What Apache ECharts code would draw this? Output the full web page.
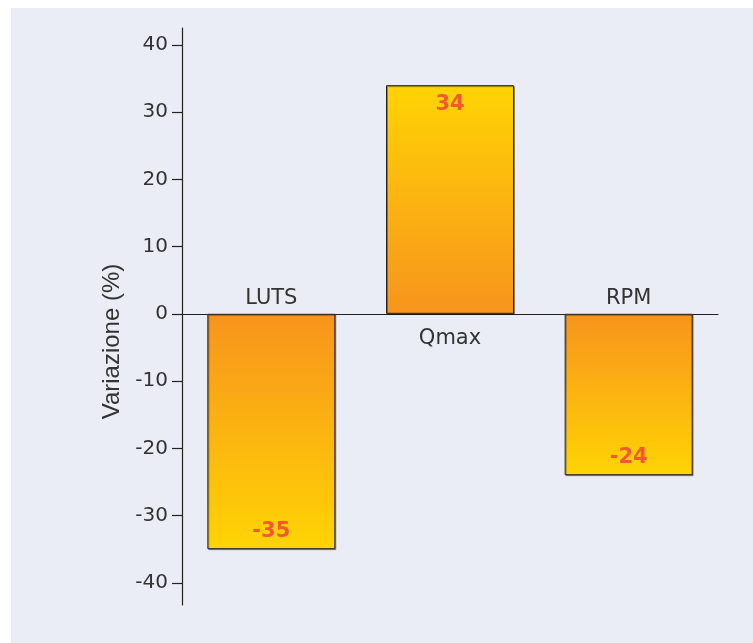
<!DOCTYPE html>
<html>
<head>
<meta charset="utf-8">
<script src="https://cdn.jsdelivr.net/npm/echarts@6/dist/echarts.min.js"></script>
<style>
html,body{margin:0;padding:0;background:#ffffff;}
#wrap{position:absolute;left:11px;top:8px;width:742px;height:635px;background:#eaedf5;}
#chart{position:absolute;left:0;top:0;width:753px;height:643px;}
</style>
</head>
<body>
<div id="wrap"></div>
<div id="chart"></div>
<script>
var categories = ['LUTS', 'Qmax', 'RPM'];
var values = [-35, 34, -24];
var yTicks = [-40, -30, -20, -10, 0, 10, 20, 30, 40];
var yAxisName = 'Variazione (%)';

var chart = echarts.init(document.getElementById('chart'), null, {renderer: 'canvas'});

function grad(v) {
  var yellow = '#ffd404', orange = '#f7941d';
  // orange near zero line, yellow at bar end
  return new echarts.graphic.LinearGradient(0, 0, 0, 1, v >= 0 ?
    [{offset: 0, color: yellow}, {offset: 1, color: orange}] :
    [{offset: 0, color: orange}, {offset: 1, color: yellow}]);
}

var barData = values.map(function (v) {
  return {
    value: v,
    itemStyle: {color: grad(v)},
    label: {position: v >= 0 ? 'insideTop' : 'insideBottom', distance: v >= 0 ? 9 : 7}
  };
});
var nameData = values.map(function (v) {
  return {
    value: v,
    label: {position: v >= 0 ? 'bottom' : 'top', distance: v >= 0 ? 14 : 5}
  };
});

chart.setOption({
  backgroundColor: 'transparent',
  animation: false,
  grid: {left: 182, right: 35, top: 28, bottom: 38, containLabel: false},
  xAxis: {
    type: 'category',
    data: categories,
    axisLine: {onZero: true, lineStyle: {color: '#222', width: 1.2}},
    axisTick: {show: false},
    axisLabel: {show: false},
    splitLine: {show: false}
  },
  yAxis: {
    type: 'value',
    min: -43.3,
    max: 42.5,
    name: yAxisName,
    nameLocation: 'middle',
    nameGap: 47,
    nameRotate: 90,
    nameTextStyle: {fontFamily: 'Liberation Sans', fontSize: 24, color: '#333', padding: [0, 50, 0, 0]},
    axisLine: {show: true, lineStyle: {color: '#222', width: 1.2}},
    axisTick: {show: true, inside: false, length: 10, customValues: yTicks, lineStyle: {color: '#222', width: 1.2}},
    axisLabel: {customValues: yTicks, margin: 14, fontFamily: 'DejaVu Sans', fontSize: 20, color: '#333'},
    splitLine: {show: false}
  },
  series: [
    {
      type: 'bar',
      data: barData,
      barWidth: 128,
      barGap: '-100%',
      itemStyle: {borderColor: '#222', borderWidth: 1, shadowColor: 'rgba(0,0,0,0.35)', shadowOffsetX: 1, shadowOffsetY: 1, shadowBlur: 0},
      label: {show: true, fontFamily: 'DejaVu Sans', fontWeight: 'bold', fontSize: 21, color: '#f2592e'},
      z: 2
    },
    {
      type: 'bar',
      data: nameData,
      barWidth: 128,
      barGap: '-100%',
      itemStyle: {color: 'rgba(0,0,0,0)'},
      label: {show: true, formatter: '{b}', fontFamily: 'DejaVu Sans', fontSize: 21, color: '#333'},
      z: 3
    }
  ]
});
</script>
</body>
</html>
